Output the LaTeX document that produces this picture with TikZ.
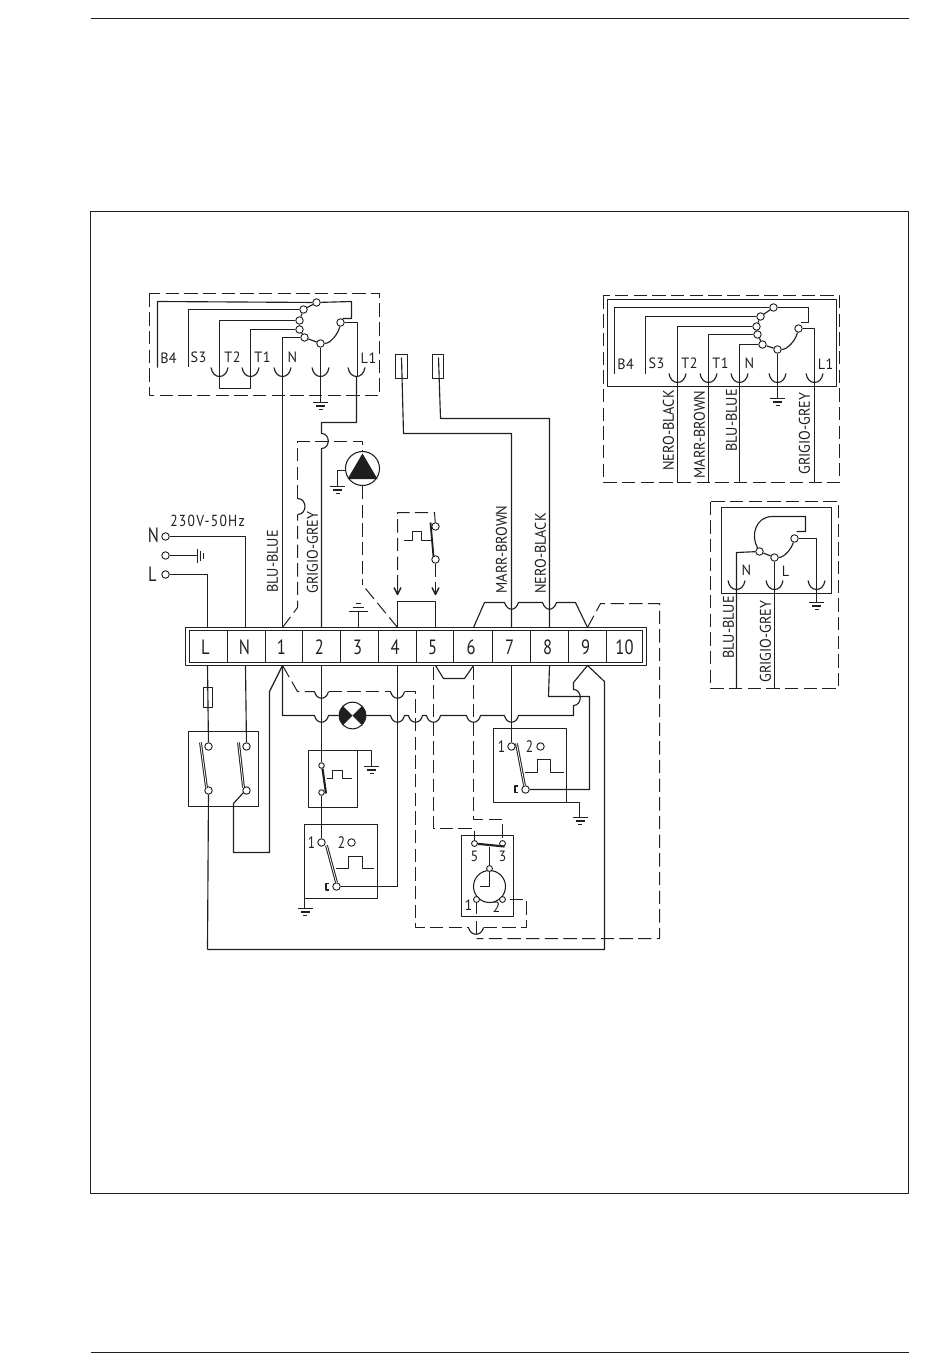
\documentclass[tikz,border=0pt]{standalone}
\usepackage{fontspec}
\newfontfamily\tf[FakeStretch=0.8]{PT Sans}
\newfontfamily\tfl[FakeStretch=0.92]{PT Sans}
\newfontfamily\tfp[FakeStretch=0.95,LetterSpace=3]{PT Sans}
\newfontfamily\tfw[FakeStretch=0.85,LetterSpace=8]{PT Sans}
\definecolor{ink}{gray}{0.12}
\tikzset{
  every path/.style={line join=round},
  wire/.style={draw=ink,line width=.85pt},
  frame/.style={draw=ink,line width=.6pt},
  dashwire/.style={draw=ink,line width=.75pt,dash pattern=on 10pt off 4pt},
  blade/.style={draw=ink,double=white,double distance=.6pt,line width=.75pt},
  term/.style={circle,draw=ink,fill=white,inner sep=0pt,minimum size=5.6pt,line width=.7pt},
  lab/.style={inner sep=0pt,text=ink,font=\tfl\fontsize{11.6}{12}\selectfont},
  pin/.style={inner sep=0pt,text=ink,font=\tfp\fontsize{11.2}{12}\selectfont},
  num/.style={inner sep=0pt,text=ink,font=\tf\fontsize{12.5}{13}\selectfont},
  big/.style={inner sep=0pt,text=ink,font=\tf\fontsize{15.5}{16}\selectfont},
  volt/.style={inner sep=0pt,text=ink,font=\tfw\fontsize{12}{12}\selectfont},
  x=.75pt,y=-.75pt
}
\newcommand{\gndsym}[2]{%
  \draw[wire] ({#1-7.5},#2) -- ({#1+7.5},#2);
  \draw[wire] ({#1-4.5},{#2+3.5}) -- ({#1+4.5},{#2+3.5});
  \draw[wire] ({#1-2},{#2+7}) -- ({#1+2},{#2+7});}
\newcommand{\plugcup}[2]{%
  \draw[wire] ({#1-8.5},#2) .. controls ({#1-7.5},{#2+6}) and ({#1-4},{#2+9}) .. (#1,{#2+9})
     .. controls ({#1+4},{#2+9}) and ({#1+7.5},{#2+6}) .. ({#1+8.5},#2);}
\newcommand{\hop}[2]{-- ({#1-7},#2) .. controls ({#1-5},{#2+9}) and ({#1+5},{#2+9}) .. ({#1+7},#2)}
\newcommand{\dhop}[2]{\draw[wire] ({#1-7},#2) .. controls ({#1-5},{#2+9}) and ({#1+5},{#2+9}) .. ({#1+7},#2);}
\newcommand{\arrowtip}[2]{%
  \draw[wire,line width=1.1pt] ({#1-3.5},{#2-7}) -- (#1,#2) -- ({#1+3.5},{#2-7});
  \draw[wire] (#1,{#2-7}) -- (#1,#2);}
\begin{document}
\begin{tikzpicture}
\useasboundingbox (0,0) rectangle (950,1369);
\begin{scope}[shift={(.5,.5)}]
\coordinate (rt1) at (90,18); \coordinate (rt2) at (908,18);
\coordinate (rb1) at (90,1352); \coordinate (rb2) at (908,1352);
\draw[frame] (rt1) -- (rt2);
\draw[frame] (rb1) -- (rb2);
\draw[frame] (90,211) rectangle (908,1193);

%%% ---------- terminal strip
\draw[wire] (185,627) rectangle (646,665);
\draw[wire] (189,630) rectangle (642,662);
\foreach \xx in {227,265,302,340,378,416,453,492,530,568,606}
  \draw[wire,line width=.7pt] (\xx,630) -- (\xx,662);
\node[big] (sL) at (205,647) {L};
\node[big] (sN) at (244,647) {N};
\node[big] (s1) at (281,647) {1};
\node[big] (s2) at (319,647) {2};
\node[big] (s3) at (357,647) {3};
\node[big] (s4) at (394.5,647) {4};
\node[big] (s5) at (432,647) {5};
\node[big] (s6) at (470.5,647) {6};
\node[big] (s7) at (509,647) {7};
\node[big] (s8) at (547,647) {8};
\node[big] (s9) at (585,647) {9};
\node[big] (s10) at (624,647) {10};
\foreach \nm/\xx in {L/207,N/245,a/282,b/321,c/358,d/397,e/435,f/473,g/511,h/549,i/587}{
  \coordinate (\nm T) at (\xx,627);
  \coordinate (\nm B) at (\xx,665);
}

%%% ---------- upper-left burner plug
\draw[dashwire] (149,293) rectangle (379,395);
\node[term] (a1) at (316,302) {};
\node[term] (a2) at (303,309) {};
\node[term] (a3) at (299,320) {};
\node[term] (a4) at (299,329) {};
\node[term] (a5) at (304,337) {};
\node[term] (a6) at (320,343) {};
\node[term] (a7) at (340,322) {};
\node[pin] (lB4) at (168,358) {B4};
\node[pin] (lS3) at (198,357) {S3};
\node[pin] (lT2) at (232,357) {T2};
\node[pin] (lT1) at (262,357) {T1};
\node[pin] (lNa) at (292,357) {N};
\node[pin] (lL1) at (368,358) {L1};
\draw[wire] (a1) -- (a2); \draw[wire] (a2) -- (a3); \draw[wire] (a3) -- (a4);
\draw[wire] (a4) -- (a5); \draw[wire] (a5) -- (a6);
\draw[wire] (a6) .. controls (330,343) and (338,333) .. (a7);
\draw[wire] (157,367) -- (157,301) -- (a1);
\draw[wire] (a1) -- (351,301) -- (351,318) -- (342,318);
\draw[wire] (188,366) -- (188,309) -- (a2);
\draw[wire] (219,376) -- (219,320) -- (a3);
\draw[wire] (250,376) -- (250,329) -- (a4);
\draw[wire] (282,376) -- (282,337) -- (a5);
\draw[wire] (a6) -- (320,402);
\draw[wire] (a7) -- (357,322) -- (357,376);
\foreach \xx in {219,250,282,320,356} {\plugcup{\xx}{367}}
\draw[wire] (219,376) -- (219,388) -- (250,388) -- (250,376);
\gndsym{320}{402}
\draw[wire] (282,376) -- (aT);
\draw[wire] (356,376) -- (356,422) -- (321,422) -- (321,433) .. controls (330,433) and (330,448) .. (321,448) -- (bT);

%%% ---------- pump
\node[circle,draw=ink,line width=.8pt,fill=white,minimum size=25.5pt,inner sep=0pt] (pump) at (362,468) {};
\fill[ink] (362,453) -- (347,478.5) -- (377,478.5) -- cycle;
\draw[dashwire] (aT) -- (297,607) -- (297,514);
\draw[wire] (297,514) .. controls (307,514) and (307,498) .. (297,498);
\draw[dashwire] (297,498) -- (297,441) -- (362,441) -- (pump.north);
\draw[dashwire] (pump.south) -- (362,584);
\draw[dashwire] (365,588) -- (dT);
\draw[wire] (345,470) -- (337,470) -- (337,486);
\gndsym{337}{486}

%%% ---------- mains
\node[term] (mN) at (165,536) {};
\node[term] (mE) at (165,555) {};
\node[term] (mL) at (165,574) {};
\node[big] (tN) at (153,535) {N};
\node[big] (tL) at (152,574) {L};
\node[volt] (tV) at (207,520) {230V-50Hz};
\draw[wire] (mN) -- (245,536) -- (NT);
\draw[wire] (mL) -- (207,574) -- (LT);
\draw[wire] (mE) -- (197,555);
\draw[wire] (197,548) -- (197,562);
\draw[wire] (200,550) -- (200,560);
\draw[wire] (203,552) -- (203,558);
\node[lab,rotate=90] (w1) at (272,561) {BLU-BLUE};
\node[lab,rotate=90] (w2) at (312,552) {GRIGIO-GREY};
\node[lab,rotate=90] (w3) at (501,549) {MARR-BROWN};
\node[lab,rotate=90] (w4) at (540,553) {NERO-BLACK};

%%% ---------- 3 ground
\draw[wire] (cT) -- (358,611);
\draw[wire] (348,611) -- (367,611);
\draw[wire] (352,607) -- (363,607);
\draw[wire] (355,603) -- (360,603);

%%% ---------- sensors
\draw[wire] (395,354) rectangle (407,378);
\draw[wire] (432,354) rectangle (443,378);
\draw[wire] (401,357) -- (403,433) -- (511,433) -- (gT);
\draw[wire] (438,357) -- (440,418) -- (549,418) -- (hT);

%%% ---------- switch above 4/5
\node[term] (k1) at (435,526) {};
\node[term] (k2) at (435,559) {};
\draw[dashwire] (397,588) -- (397,512) -- (434,512) -- (k1);
\draw[dashwire] (k2) -- (435,588);
\arrowtip{397}{594}
\arrowtip{435}{594}
\draw[wire,line width=1.4pt] (430,522) -- (433,556);
\draw[wire] (403,540) -- (412,540) -- (412,531) -- (421,531) -- (421,540) -- (431,540);
\draw[wire] (dT) -- (397,601) -- (435,601) -- (eT);

%%% ---------- trapezoid above 6..9
\draw[wire] (fT) -- (484,602) -- (504,602) .. controls (507,611) and (515,611) .. (518,602)
  -- (542,602) .. controls (545,611) and (553,611) .. (556,602) -- (575,602) -- (iT);
\draw[dashwire] (iT) -- (600,603) -- (659,603) -- (659,938) -- (476,938);

%%% ---------- below strip: dashed and lamp runs
\draw[dashwire] (aB) -- (297,691) -- (314,691);
\dhop{321}{691}
\draw[dashwire] (328,691) -- (390,691);
\dhop{397}{691}
\draw[dashwire] (404,691) -- (415,691) -- (415,927) -- (468,927);
\draw[wire] (468,927) .. controls (470,936) and (481,936) .. (483,927);
\draw[dashwire] (483,927) -- (526,927) -- (526,899) -- (505,899);
\node[circle,draw=ink,fill=white,line width=.8pt,minimum size=20pt,inner sep=0pt] (lamp) at (352,715) {};
\fill[ink] (352,715) -- (342.5,705.5) .. controls (337,711) and (337,719) .. (342.5,724.5) -- cycle;
\fill[ink] (352,715) -- (361.5,705.5) .. controls (367,711) and (367,719) .. (361.5,724.5) -- cycle;
\draw[wire] (aB) -- (282,715) \hop{321}{715} -- (lamp.west);
\draw[wire] (lamp.east) \hop{397}{715} \hop{415}{715} \hop{433}{715} \hop{473}{715} \hop{511}{715} -- (573,715) -- (573,705)
   .. controls (582,705) and (582,689) .. (573,689) -- (573,682) -- (iB);
\draw[wire] (aB) -- (269,691) -- (269,852) -- (233,852) -- (233,803) -- (243,792);
\draw[wire] (hB) -- (548,696) -- (589,696) -- (589,789) -- (529,789);
\draw[wire] (iB) -- (604,681) -- (604,949) -- (207,949);
\draw[wire] (eB) -- (443,678) -- (464,678) -- (fB);
\draw[dashwire] (433,666) -- (433,828) -- (474,828) -- (474,839);
\draw[dashwire] (473,666) -- (473,819) -- (502,819) -- (502,839);
\draw[wire] (dB) -- (397,886);

%%% ---------- fuse and main switch
\draw[wire] (203,687) rectangle (212,707);
\draw[wire] (188,731) rectangle (258,806);
\node[term] (p1) at (208,746) {};
\node[term] (p2) at (208,790) {};
\node[term] (p3) at (246,746) {};
\node[term] (p4) at (246,790) {};
\draw[blade] (200,742) -- (206,787);
\draw[blade] (238,742) -- (243,787);
\draw[wire] (LB) -- (p1);
\draw[wire] (NB) -- (p3);
\draw[wire] (p2) -- (207,949);

%%% ---------- small thermostat
\draw[wire] (308,750) rectangle (357,807);
\draw[wire] (357,750) -- (371,750) -- (371,766);
\gndsym{371}{766}
\node[term,minimum size=4.2pt] (q1) at (321,765) {};
\node[term,minimum size=4.2pt] (q2) at (321,792) {};
\draw[wire] (bB) -- (q1);
\draw[wire,line width=1.6pt] (322,768) -- (325.5,793);
\draw[wire] (326,778) -- (332,778) -- (332,770) -- (342,770) -- (342,778) -- (351,778);

%%% ---------- thermostat box 3
\draw[wire] (304,824) rectangle (377,898);
\node[term] (r1) at (321,842) {};
\node[term] (r2) at (351,842) {};
\node[term] (rC) at (336,886) {};
\node[num] (r1t) at (311,842) {1};
\node[num] (r2t) at (341,842) {2};
\draw[wire] (q2) -- (r1);
\draw[blade] (326,845) -- (336,882);
\draw[wire] (335,868) -- (348,868) -- (348,856) -- (362,856) -- (362,868) -- (373,868);
\draw[wire] (328,883) -- (325.5,883) -- (325.5,889.5) -- (328,889.5);
\draw[wire] (rC) -- (397,886);
\draw[wire] (304,898) -- (304,908);
\gndsym{304.5}{908}

%%% ---------- thermostat box 4
\draw[wire] (493,728) rectangle (566,802);
\node[term] (u1) at (511,746) {};
\node[term] (u2) at (540,746) {};
\node[term] (uC) at (525,789) {};
\node[num] (u1t) at (501,746) {1};
\node[num] (u2t) at (529,746) {2};
\draw[wire] (gB) -- (u1);
\draw[blade] (516,743) -- (524,785);
\draw[wire] (524,772) -- (537,772) -- (537,759) -- (550,759) -- (550,772) -- (563,772);
\draw[wire] (517,785.5) -- (514.5,785.5) -- (514.5,792) -- (517,792);
\draw[wire] (566,802) -- (579,802) -- (579,817);
\gndsym{579.5}{817}

%%% ---------- timer box
\draw[wire] (461,835) rectangle (513,916);
\node[circle,draw=ink,line width=.8pt,minimum size=24pt,inner sep=0pt] (clock) at (489,886) {};
\node[term,minimum size=4.4pt] (v5) at (474,843) {};
\node[term,minimum size=4.4pt] (v3) at (502,843) {};
\node[term,minimum size=4.4pt] (vT) at (489,868) {};
\node[term,minimum size=4.4pt] (v1) at (476,899) {};
\node[term,minimum size=4.4pt] (v2) at (502,899) {};
\draw[wire,line width=1.6pt] (v5) -- (504,846);
\draw[wire] (489,846) -- (vT);
\draw[wire] (vT) -- (489,886) -- (479,886);
\node[pin] (v5t) at (474,856) {5};
\node[pin] (v3t) at (502,856) {3};
\node[pin] (v1t) at (468,905) {1};
\node[pin] (v2t) at (496,907) {2};
\draw[wire] (v1) -- (476,913);
\draw[wire] (476,920) -- (476,933);

%%% ---------- right upper plug
\draw[dashwire] (603,295) rectangle (839,482);
\draw[wire] (607,299) rectangle (836,386);
\node[term] (b1) at (773,307) {};
\node[term] (b2) at (760,316) {};
\node[term] (b3) at (756,326) {};
\node[term] (b4) at (757,334) {};
\node[term] (b5) at (762,344) {};
\node[term] (b6) at (777,349) {};
\node[term] (b7) at (798,328) {};
\node[pin] (mB4) at (625,364) {B4};
\node[pin] (mS3) at (656,363) {S3};
\node[pin] (mT2) at (689,363) {T2};
\node[pin] (mT1) at (720,363) {T1};
\node[pin] (mNa) at (749,363) {N};
\node[pin] (mL1) at (825,364) {L1};
\draw[wire] (b1) -- (b2); \draw[wire] (b2) -- (b3); \draw[wire] (b3) -- (b4);
\draw[wire] (b4) -- (b5); \draw[wire] (b5) -- (b6);
\draw[wire] (b6) .. controls (787,349) and (795,340) .. (b7);
\draw[wire] (614,373) -- (614,307) -- (b1);
\draw[wire] (b1) -- (808,307) -- (808,322) -- (800,322);
\draw[wire] (645,373) -- (645,316) -- (b2);
\draw[wire] (677,482) -- (677,326) -- (b3);
\draw[wire] (708,482) -- (708,334) -- (b4);
\draw[wire] (739,482) -- (739,344) -- (b5);
\draw[wire] (b6) -- (777,398);
\draw[wire] (b7) -- (814,328) -- (814,482);
\foreach \xx in {677,708,739,777,814} {\plugcup{\xx}{373}}
\gndsym{777}{398}
\node[lab,rotate=90] (x1) at (668,430) {NERO-BLACK};
\node[lab,rotate=90] (x2) at (699,434) {MARR-BROWN};
\node[lab,rotate=90] (x3) at (731,420) {BLU-BLUE};
\node[lab,rotate=90] (x4) at (804,433) {GRIGIO-GREY};

%%% ---------- fan plug
\draw[dashwire] (710,501) rectangle (838,688);
\draw[wire] (721,507) rectangle (831,593);
\node[term] (f1) at (759,551) {};
\node[term] (f2) at (774,557) {};
\node[term] (f3) at (794,538) {};
\node[pin] (fN) at (746,570) {N};
\node[pin] (fL) at (785,571) {L};
\draw[wire] (f1) -- (f2);
\draw[wire] (f2) .. controls (784,557) and (791,548) .. (f3);
\draw[wire] (f1) .. controls (750,535) and (755,516) .. (772,516) -- (805,516) -- (805,531) -- (796,531);
\draw[wire] (f1) -- (736,552) -- (736,688);
\draw[wire] (f2) -- (774,688);
\draw[wire] (f3) -- (816,538) -- (816,602);
\foreach \xx in {736,774,816} {\plugcup{\xx}{580}}
\gndsym{816}{602}
\node[lab,rotate=90] (y1) at (728,627) {BLU-BLUE};
\node[lab,rotate=90] (y2) at (765,641) {GRIGIO-GREY};
\end{scope}
\end{tikzpicture}
\end{document}
